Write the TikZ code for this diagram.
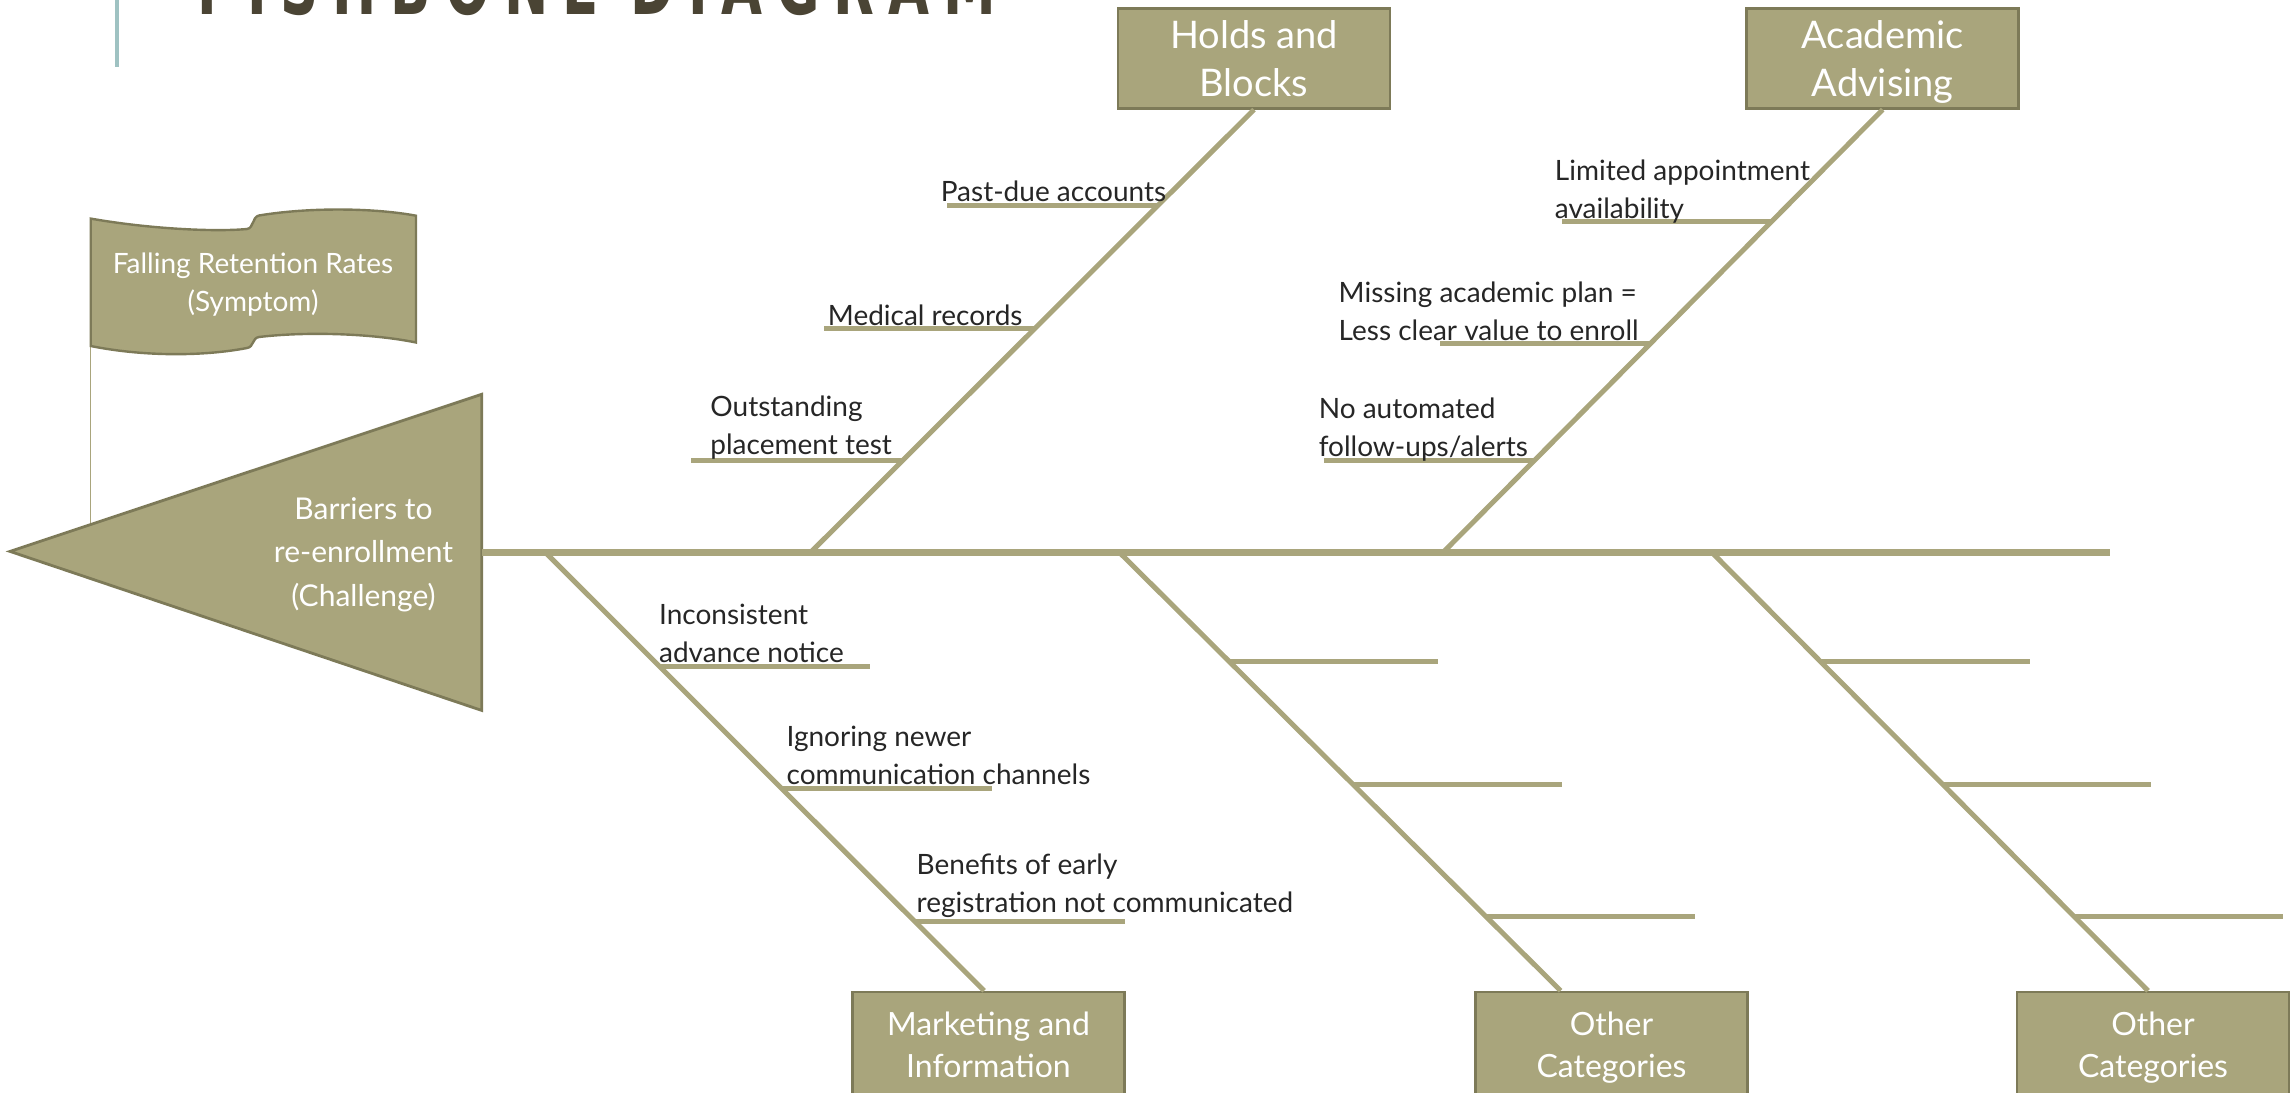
\documentclass[tikz,border=0pt]{standalone}
\usepackage{fontspec}
\setmainfont{Lato}
\newfontfamily\titlefont[FakeStretch=0.7,LetterSpace=16.5]{DejaVu Sans Condensed}
\usetikzlibrary{positioning,calc}
\definecolor{fishbone}{HTML}{A9A57C}
\definecolor{fishdark}{HTML}{7D7A58}
\definecolor{labelgray}{HTML}{262626}
\definecolor{titlebrown}{HTML}{4A4434}
\definecolor{titleteal}{HTML}{9FC2C2}
\tikzset{
        % Category boxes
        cat_box/.style={rectangle, draw=fishdark, line width=1.25pt, fill=fishbone, text=white, align=center, text depth=0pt, minimum width=136pt, inner sep=0pt},
        cat_top/.style={cat_box, minimum height=50pt, font=\fontsize{19}{24.2}\selectfont},
        cat_bottom/.style={cat_box, minimum height=53pt, font=\fontsize{16}{20.8}\selectfont},
        % Cause labels
        cause/.style={anchor=south west, inner sep=0pt, text depth=0pt, yshift=-1.5pt, align=left, text=labelgray, font=\fontsize{14}{19}\selectfont},
        % Head and flag texts
        head_text/.style={anchor=south, inner sep=0pt, text depth=0pt, align=center, text=white, font=\fontsize{15}{21.8}\selectfont},
        flag_text/.style={head_text, font=\fontsize{14}{19.3}\selectfont},
        % Bones
        spine_line/.style={fishbone, line width=3.5pt},
        bone_line/.style={fishbone, line width=2.5pt},
        rib_line/.style={fishbone, line width=2.5pt}
}

\begin{document}
\begin{tikzpicture}[x=0.5pt, y=-0.5pt]
    \useasboundingbox (0,0) rectangle (2291,1092);
    \clip (0,0) rectangle (2291,1092);

    % title, cut by the top edge
    \draw[titleteal, line width=2pt] (117,0) -- (117,67);
    \node[anchor=base west, inner sep=0pt, text=titlebrown, font=\titlefont\bfseries\fontsize{42}{42}\selectfont] (title) at (197,14) {FISHBONE DIAGRAM};

    % flag pole
    \coordinate (pole_top) at (90.7,346);
    \coordinate (pole_foot) at (90.7,523);
    \draw[fishbone, line width=0.7pt] (pole_top) -- (pole_foot);

    % head
    \coordinate (tip) at (10,551.4);
    \draw[fill=fishbone, draw=fishdark, line width=1.4pt] (tip) -- (481.7,394.3) -- (481.7,710.4) -- cycle;
    \node[head_text] (challenge) at (363.5,606.8) {Barriers to\\re-enrollment\\(Challenge)};

    % symptom flag
    \draw[fill=fishbone, draw=fishdark, line width=1.2pt] (90.7,218.6)
        .. controls (150,229) and (215,232) .. (247,229)
        .. controls (254,228) and (252,217) .. (259,215.5)
        .. controls (310,207) and (375,208) .. (416,215.7)
        -- (416,342.5)
        .. controls (375,334) and (310,331) .. (259,337)
        .. controls (252,338) and (254,347) .. (247,348)
        .. controls (200,357) and (140,356) .. (90.7,346)
        -- cycle;
    \node[flag_text] (symptom) at (253,312) {Falling Retention Rates\\(Symptom)};

    % spine
    \coordinate (head) at (481.7,552);
    \coordinate (tail) at (2110,552);
    \draw[spine_line] (head) -- (tail);

    % categories
    \node[cat_top] (holds) at (1254,58.3) {Holds and\\Blocks};
    \node[cat_top] (advising) at (1882.7,58.3) {Academic\\Advising};
    \node[cat_bottom] (marketing) at (988.5,1045) {Marketing and\\Information};
    \node[cat_bottom] (other_a) at (1611.5,1045) {Other\\Categories};
    \node[cat_bottom] (other_b) at (2153,1045) {Other\\Categories};

    % bones
    \coordinate (b_holds) at (811,552);
    \coordinate (b_advising) at (1443.5,552);
    \coordinate (b_marketing) at (545,552);
    \coordinate (b_other_a) at (1119,552);
    \coordinate (b_other_b) at (1711.5,552);
    \coordinate (e_marketing) at ([xshift=-2.2pt]marketing.north);
    \coordinate (e_other_a) at ([xshift=-25.4pt]other_a.north);
    \coordinate (e_other_b) at ([xshift=-2.5pt]other_b.north);

    \draw[bone_line] (b_holds) -- (holds.south);
    \draw[bone_line] (b_advising) -- (advising.south);
    \draw[bone_line] (b_marketing) -- (e_marketing);
    \draw[bone_line] (b_other_a) -- (e_other_a);
    \draw[bone_line] (b_other_b) -- (e_other_b);

    % ribs
    \foreach \p in {0.206,0.506,0.784}
        \draw[rib_line] ($(b_holds)!\p!(holds.south)$) -- ++(-211,0);
    \foreach \p in {0.206,0.471,0.7475}
        \draw[rib_line] ($(b_advising)!\p!(advising.south)$) -- ++(-210,0);
    \foreach \p in {0.262,0.539,0.843}
        \draw[rib_line] ($(b_marketing)!\p!(e_marketing)$) -- ++(210,0);
    \foreach \p in {0.250,0.529,0.830} {
        \draw[rib_line] ($(b_other_a)!\p!(e_other_a)$) -- ++(209,0);
        \draw[rib_line] ($(b_other_b)!\p!(e_other_b)$) -- ++(209,0);
    }

    % causes
    \node[cause] (l_pastdue) at (940.4,199.3) {Past-due accounts};
    \node[cause] (l_medical) at (827.5,322.7) {Medical records};
    \node[cause] (l_placement) at (710,451.7) {Outstanding\\placement test};
    \node[cause] (l_appoint) at (1554.5,216) {Limited appointment\\availability};
    \node[cause] (l_plan) at (1338.3,338.3) {Missing academic plan =\\Less clear value to enroll};
    \node[cause] (l_alerts) at (1318.4,454) {No automated\\follow-ups/alerts};
    \node[cause] (l_notice) at (658.7,660) {Inconsistent\\advance notice};
    \node[cause] (l_channels) at (786.2,781.7) {Ignoring newer\\communication channels};
    \node[cause] (l_early) at (916.3,910) {Benefits of early\\registration not communicated};
\end{tikzpicture}
\end{document}
